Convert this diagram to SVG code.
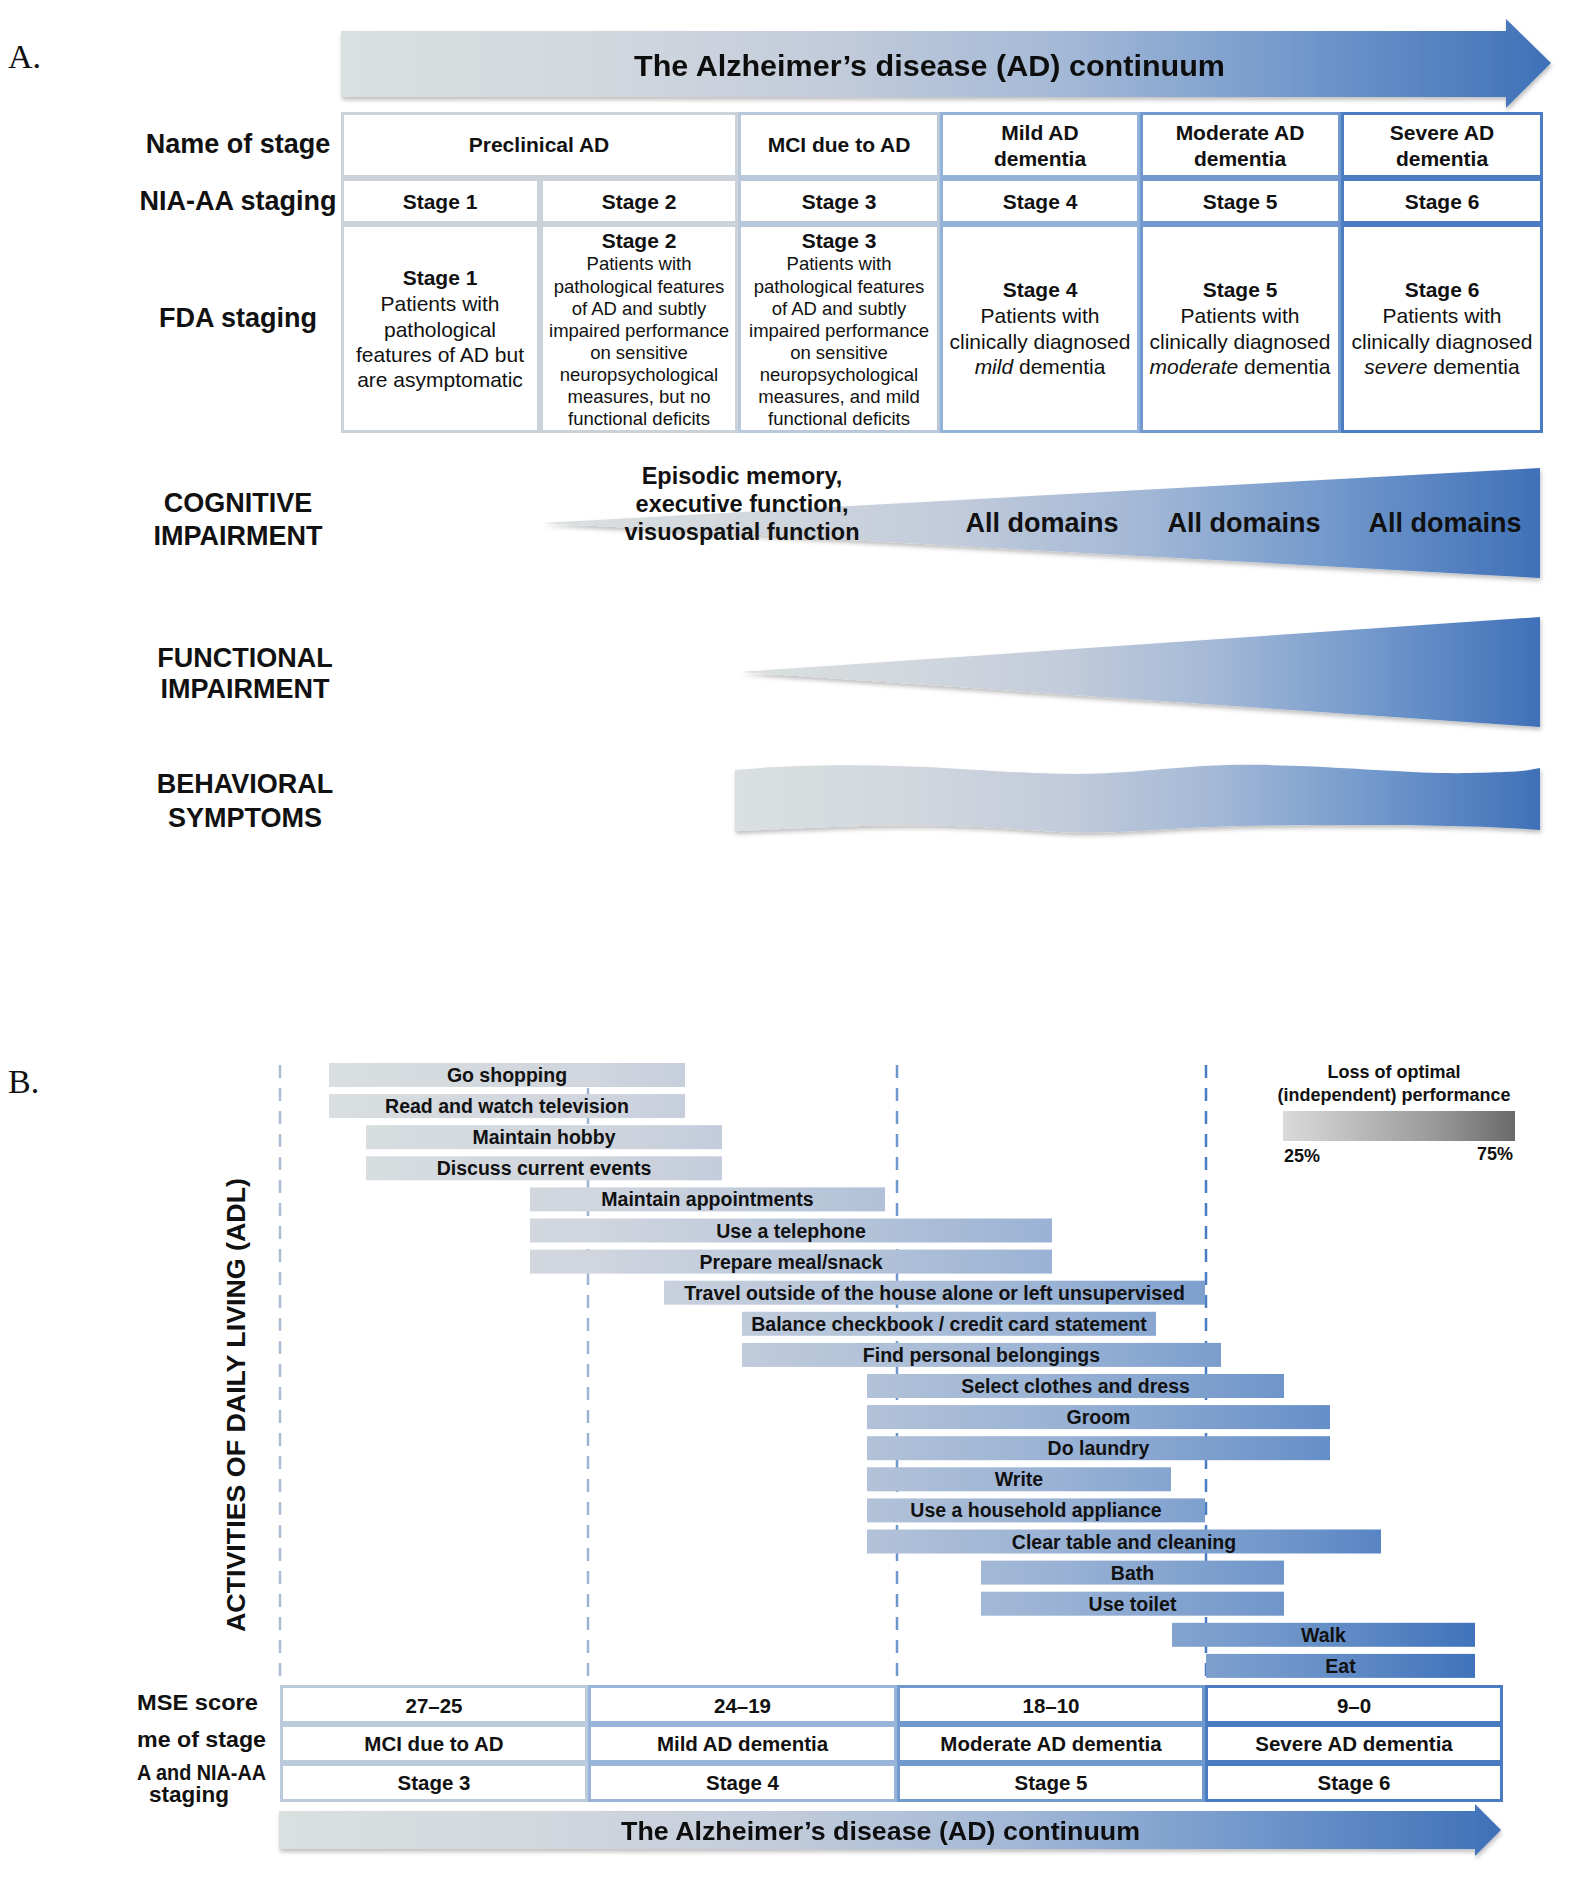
<svg xmlns="http://www.w3.org/2000/svg" width="1594" height="1898" viewBox="0 0 1594 1898">
<defs>
<linearGradient id="gMain" x1="0" y1="0" x2="1" y2="0">
<stop offset="0" stop-color="#dadfe0"/><stop offset="0.2" stop-color="#d3d8de"/><stop offset="0.4" stop-color="#c3ccdb"/><stop offset="0.6" stop-color="#a3b8d6"/><stop offset="0.8" stop-color="#7097cb"/><stop offset="1" stop-color="#3f70b8"/>
</linearGradient>
<linearGradient id="gBar" gradientUnits="userSpaceOnUse" x1="300" y1="0" x2="1480" y2="0">
<stop offset="0" stop-color="#dadfe0"/><stop offset="0.25" stop-color="#d0d5de"/><stop offset="0.45" stop-color="#b7c5d9"/><stop offset="0.65" stop-color="#98b1d4"/><stop offset="0.85" stop-color="#6b93c9"/><stop offset="1" stop-color="#3f72bb"/>
</linearGradient>
<linearGradient id="gLeg" x1="0" y1="0" x2="1" y2="0">
<stop offset="0" stop-color="#dadada"/><stop offset="0.3" stop-color="#bdbdbd"/><stop offset="0.65" stop-color="#9a9a9a"/><stop offset="1" stop-color="#6a6a6a"/>
</linearGradient>
<filter id="sh" x="-5%" y="-20%" width="110%" height="150%">
<feDropShadow dx="1" dy="3" stdDeviation="2" flood-color="#000" flood-opacity="0.25"/>
</filter>
<style>
text{font-family:"Liberation Sans",Arial,sans-serif;fill:#111;}
.lbl{font-size:27px;font-weight:bold;text-anchor:middle;}
.cellb{font-size:21px;font-weight:bold;text-anchor:middle;}
.cell{font-size:21px;text-anchor:middle;}
.small{font-size:18.5px;text-anchor:middle;}
.bar{font-size:19.5px;font-weight:bold;text-anchor:middle;}
.bt{font-size:20.5px;font-weight:bold;text-anchor:middle;}
.bl{font-size:22.5px;font-weight:bold;}
.serif{font-family:"Liberation Serif","Times New Roman",serif;font-size:34px;}
.c1{fill:#fff;stroke:#cbd2d9;stroke-width:3;}
.c3{fill:#fff;stroke:#b9c8da;stroke-width:3;}
.c4{fill:#fff;stroke:#93b2da;stroke-width:3;}
.c5{fill:#fff;stroke:#7199cf;stroke-width:3;}
.c6{fill:#fff;stroke:#4b7dc2;stroke-width:3;}
.d1{fill:#fff;stroke:#bccbdc;stroke-width:3;}
.d2{fill:#fff;stroke:#98b4d8;stroke-width:3;}
.d3{fill:#fff;stroke:#7099ce;stroke-width:3;}
.d4{fill:#fff;stroke:#4a7cc2;stroke-width:3;}
.dash{stroke-width:2.5;stroke-dasharray:13 10;fill:none;}
.b{fill:url(#gBar);}
</style>
</defs>
<rect width="1594" height="1898" fill="#fff"/>

<!-- ===== Part A ===== -->
<text class="serif" x="8" y="68">A.</text>

<g id="arrowA" filter="url(#sh)">
<path d="M341,31 L1506,31 L1506,19 L1551,63 L1506,108 L1506,97 L341,97 Z" fill="url(#gMain)"/>
<text x="929.5" y="76" font-size="30" font-weight="bold" text-anchor="middle" textLength="591" lengthAdjust="spacingAndGlyphs">The Alzheimer’s disease (AD) continuum</text>
</g>

<g id="rowlabels">
<text class="lbl" x="238" y="153">Name of stage</text>
<text class="lbl" x="238" y="210">NIA-AA staging</text>
<text class="lbl" x="238" y="327">FDA staging</text>
</g>

<g id="cell-preclinical"><rect class="c1" x="342.5" y="113.5" width="394" height="63"/><text class="cellb" x="539" y="152">Preclinical AD</text></g>
<g id="cell-mci"><rect class="c3" x="739.5" y="113.5" width="199" height="63"/><text class="cellb" x="839" y="152">MCI due to AD</text></g>
<g id="cell-mild"><rect class="c4" x="941.5" y="113.5" width="197" height="63"/><text class="cellb" x="1040" y="140">Mild AD</text><text class="cellb" x="1040" y="166">dementia</text></g>
<g id="cell-moderate"><rect class="c5" x="1141.5" y="113.5" width="198" height="63"/><text class="cellb" x="1240" y="140">Moderate AD</text><text class="cellb" x="1240" y="166">dementia</text></g>
<g id="cell-severe"><rect class="c6" x="1342.5" y="113.5" width="199" height="63"/><text class="cellb" x="1442" y="140">Severe AD</text><text class="cellb" x="1442" y="166">dementia</text></g>

<g id="nia1"><rect class="c1" x="342.5" y="179.5" width="196" height="43"/><text class="cellb" x="440" y="209">Stage 1</text></g>
<g id="nia2"><rect class="c1" x="541.5" y="179.5" width="195" height="43"/><text class="cellb" x="639" y="209">Stage 2</text></g>
<g id="nia3"><rect class="c3" x="739.5" y="179.5" width="199" height="43"/><text class="cellb" x="839" y="209">Stage 3</text></g>
<g id="nia4"><rect class="c4" x="941.5" y="179.5" width="197" height="43"/><text class="cellb" x="1040" y="209">Stage 4</text></g>
<g id="nia5"><rect class="c5" x="1141.5" y="179.5" width="198" height="43"/><text class="cellb" x="1240" y="209">Stage 5</text></g>
<g id="nia6"><rect class="c6" x="1342.5" y="179.5" width="199" height="43"/><text class="cellb" x="1442" y="209">Stage 6</text></g>

<g id="fda1"><rect class="c1" x="342.5" y="225.5" width="196" height="206"/>
<text class="cellb" x="440" y="285">Stage 1</text>
<text class="cell" x="440" y="311">Patients with</text>
<text class="cell" x="440" y="337">pathological</text>
<text class="cell" x="440" y="362">features of AD but</text>
<text class="cell" x="440" y="387">are asymptomatic</text></g>
<g id="fda2"><rect class="c1" x="541.5" y="225.5" width="195" height="206"/>
<text class="cellb" x="639" y="248">Stage 2</text>
<text class="small" x="639" y="270">Patients with</text>
<text class="small" x="639" y="293">pathological features</text>
<text class="small" x="639" y="315">of AD and subtly</text>
<text class="small" x="639" y="337">impaired performance</text>
<text class="small" x="639" y="359">on sensitive</text>
<text class="small" x="639" y="381">neuropsychological</text>
<text class="small" x="639" y="403">measures, but no</text>
<text class="small" x="639" y="425">functional deficits</text></g>
<g id="fda3"><rect class="c3" x="739.5" y="225.5" width="199" height="206"/>
<text class="cellb" x="839" y="248">Stage 3</text>
<text class="small" x="839" y="270">Patients with</text>
<text class="small" x="839" y="293">pathological features</text>
<text class="small" x="839" y="315">of AD and subtly</text>
<text class="small" x="839" y="337">impaired performance</text>
<text class="small" x="839" y="359">on sensitive</text>
<text class="small" x="839" y="381">neuropsychological</text>
<text class="small" x="839" y="403">measures, and mild</text>
<text class="small" x="839" y="425">functional deficits</text></g>
<g id="fda4"><rect class="c4" x="941.5" y="225.5" width="197" height="206"/>
<text class="cellb" x="1040" y="297">Stage 4</text>
<text class="cell" x="1040" y="323">Patients with</text>
<text class="cell" x="1040" y="349">clinically diagnosed</text>
<text class="cell" x="1040" y="374"><tspan font-style="italic">mild</tspan> dementia</text></g>
<g id="fda5"><rect class="c5" x="1141.5" y="225.5" width="198" height="206"/>
<text class="cellb" x="1240" y="297">Stage 5</text>
<text class="cell" x="1240" y="323">Patients with</text>
<text class="cell" x="1240" y="349">clinically diagnosed</text>
<text class="cell" x="1240" y="374"><tspan font-style="italic">moderate</tspan> dementia</text></g>
<g id="fda6"><rect class="c6" x="1342.5" y="225.5" width="199" height="206"/>
<text class="cellb" x="1442" y="297">Stage 6</text>
<text class="cell" x="1442" y="323">Patients with</text>
<text class="cell" x="1442" y="349">clinically diagnosed</text>
<text class="cell" x="1442" y="374"><tspan font-style="italic">severe</tspan> dementia</text></g>

<g id="cognitive">
<text class="lbl" x="238" y="512">COGNITIVE</text>
<text class="lbl" x="238" y="545">IMPAIRMENT</text>
<path d="M542,523 L1540,468 L1540,578 Z" fill="url(#gMain)" filter="url(#sh)"/>
<text x="742" y="484" font-size="23.5" font-weight="bold" text-anchor="middle">Episodic memory,</text>
<text x="742" y="512" font-size="23.5" font-weight="bold" text-anchor="middle">executive function,</text>
<text x="742" y="540" font-size="23.5" font-weight="bold" text-anchor="middle">visuospatial function</text>
<text class="lbl" x="1042" y="532">All domains</text>
<text class="lbl" x="1244" y="532">All domains</text>
<text class="lbl" x="1445" y="532">All domains</text>
</g>

<g id="functional">
<text class="lbl" x="245" y="667">FUNCTIONAL</text>
<text class="lbl" x="245" y="698">IMPAIRMENT</text>
<path d="M740,672 L1540,617 L1540,727 Z" fill="url(#gMain)" filter="url(#sh)"/>
</g>

<g id="behavioral">
<text class="lbl" x="245" y="793">BEHAVIORAL</text>
<text class="lbl" x="245" y="827">SYMPTOMS</text>
<path d="M735,770 C800,764 880,764 960,769 S1080,776 1140,771 S1230,763 1300,766 S1420,774 1470,773 S1525,771 1540,768 L1540,830 C1490,826 1420,825 1360,825 S1230,825 1170,829 S1080,834 1030,830 S920,824 860,826 S760,830 735,831 Z" fill="url(#gMain)" filter="url(#sh)"/>
</g>

<!-- ===== Part B ===== -->
<text class="serif" x="8" y="1093">B.</text>

<g id="connectors">
<line class="dash" x1="280" y1="1065" x2="280" y2="1685" stroke="#aabdd2"/>
<line class="dash" x1="588" y1="1065" x2="588" y2="1685" stroke="#9db5d2"/>
<line class="dash" x1="897" y1="1065" x2="897" y2="1685" stroke="#6f97cc"/>
<line class="dash" x1="1206" y1="1065" x2="1206" y2="1685" stroke="#4a7cc4"/>
</g>

<g id="adl-axis">
<text x="245" y="1405" font-size="26.5" font-weight="bold" text-anchor="middle" textLength="454" lengthAdjust="spacingAndGlyphs" transform="rotate(-90 245 1405)">ACTIVITIES OF DAILY LIVING (ADL)</text>
</g>

<g id="legend">
<text x="1394" y="1078" font-size="18" font-weight="bold" text-anchor="middle">Loss of optimal</text>
<text x="1394" y="1101" font-size="18" font-weight="bold" text-anchor="middle">(independent) performance</text>
<rect x="1283" y="1111" width="232" height="30" fill="url(#gLeg)"/>
<text x="1284" y="1162" font-size="18" font-weight="bold">25%</text>
<text x="1513" y="1160" font-size="18" font-weight="bold" text-anchor="end">75%</text>
</g>

<g id="bar-go-shopping"><rect class="b" x="329" y="1063" width="356" height="24"/><text class="bar" x="507" y="1082">Go shopping</text></g>
<g id="bar-read-tv"><rect class="b" x="329" y="1094.1" width="356" height="24"/><text class="bar" x="507" y="1113.1">Read and watch television</text></g>
<g id="bar-hobby"><rect class="b" x="366" y="1125.2" width="356" height="24"/><text class="bar" x="544" y="1144.2">Maintain hobby</text></g>
<g id="bar-discuss"><rect class="b" x="366" y="1156.3" width="356" height="24"/><text class="bar" x="544" y="1175.3">Discuss current events</text></g>
<g id="bar-appointments"><rect class="b" x="530" y="1187.4" width="355" height="24"/><text class="bar" x="707.5" y="1206.4">Maintain appointments</text></g>
<g id="bar-telephone"><rect class="b" x="530" y="1218.5" width="522" height="24"/><text class="bar" x="791" y="1237.5">Use a telephone</text></g>
<g id="bar-meal"><rect class="b" x="530" y="1249.6" width="522" height="24"/><text class="bar" x="791" y="1268.6">Prepare meal/snack</text></g>
<g id="bar-travel"><rect class="b" x="664" y="1280.7" width="541" height="24"/><text class="bar" x="934.5" y="1299.7">Travel outside of the house alone or left unsupervised</text></g>
<g id="bar-checkbook"><rect class="b" x="742" y="1311.8" width="414" height="24"/><text class="bar" x="949" y="1330.8">Balance checkbook / credit card statement</text></g>
<g id="bar-belongings"><rect class="b" x="742" y="1342.9" width="479" height="24"/><text class="bar" x="981.5" y="1361.9">Find personal belongings</text></g>
<g id="bar-clothes"><rect class="b" x="867" y="1374" width="417" height="24"/><text class="bar" x="1075.5" y="1393">Select clothes and dress</text></g>
<g id="bar-groom"><rect class="b" x="867" y="1405.1" width="463" height="24"/><text class="bar" x="1098.5" y="1424.1">Groom</text></g>
<g id="bar-laundry"><rect class="b" x="867" y="1436.2" width="463" height="24"/><text class="bar" x="1098.5" y="1455.2">Do laundry</text></g>
<g id="bar-write"><rect class="b" x="867" y="1467.3" width="304" height="24"/><text class="bar" x="1019" y="1486.3">Write</text></g>
<g id="bar-appliance"><rect class="b" x="867" y="1498.4" width="338" height="24"/><text class="bar" x="1036" y="1517.4">Use a household appliance</text></g>
<g id="bar-clear-table"><rect class="b" x="867" y="1529.5" width="514" height="24"/><text class="bar" x="1124" y="1548.5">Clear table and cleaning</text></g>
<g id="bar-bath"><rect class="b" x="981" y="1560.6" width="303" height="24"/><text class="bar" x="1132.5" y="1579.6">Bath</text></g>
<g id="bar-toilet"><rect class="b" x="981" y="1591.7" width="303" height="24"/><text class="bar" x="1132.5" y="1610.7">Use toilet</text></g>
<g id="bar-walk"><rect class="b" x="1172" y="1622.8" width="303" height="24"/><text class="bar" x="1323.5" y="1641.8">Walk</text></g>
<g id="bar-eat"><rect class="b" x="1206" y="1653.9" width="269" height="24"/><text class="bar" x="1340.5" y="1672.9">Eat</text></g>

<g id="rowlabelsB">
<text class="bl" x="137" y="1710" textLength="121" lengthAdjust="spacingAndGlyphs">MSE score</text>
<text class="bl" x="137" y="1747" textLength="129" lengthAdjust="spacingAndGlyphs">me of stage</text>
<text class="bl" x="137" y="1780" textLength="129" lengthAdjust="spacingAndGlyphs">A and NIA-AA</text>
<text class="bl" x="189" y="1802" text-anchor="middle">staging</text>
</g>

<g id="mmse1"><rect class="d1" x="281.5" y="1686.5" width="305" height="36"/><text class="bt" x="434" y="1713">27–25</text></g>
<g id="mmse2"><rect class="d2" x="589.5" y="1686.5" width="306" height="36"/><text class="bt" x="742.5" y="1713">24–19</text></g>
<g id="mmse3"><rect class="d3" x="898.5" y="1686.5" width="305" height="36"/><text class="bt" x="1051" y="1713">18–10</text></g>
<g id="mmse4"><rect class="d4" x="1206.5" y="1686.5" width="295" height="36"/><text class="bt" x="1354" y="1713">9–0</text></g>

<g id="nameB1"><rect class="d1" x="281.5" y="1725.5" width="305" height="36"/><text class="bt" x="434" y="1751">MCI due to AD</text></g>
<g id="nameB2"><rect class="d2" x="589.5" y="1725.5" width="306" height="36"/><text class="bt" x="742.5" y="1751">Mild AD dementia</text></g>
<g id="nameB3"><rect class="d3" x="898.5" y="1725.5" width="305" height="36"/><text class="bt" x="1051" y="1751">Moderate AD dementia</text></g>
<g id="nameB4"><rect class="d4" x="1206.5" y="1725.5" width="295" height="36"/><text class="bt" x="1354" y="1751">Severe AD dementia</text></g>

<g id="stageB1"><rect class="d1" x="281.5" y="1764.5" width="305" height="36"/><text class="bt" x="434" y="1790">Stage 3</text></g>
<g id="stageB2"><rect class="d2" x="589.5" y="1764.5" width="306" height="36"/><text class="bt" x="742.5" y="1790">Stage 4</text></g>
<g id="stageB3"><rect class="d3" x="898.5" y="1764.5" width="305" height="36"/><text class="bt" x="1051" y="1790">Stage 5</text></g>
<g id="stageB4"><rect class="d4" x="1206.5" y="1764.5" width="295" height="36"/><text class="bt" x="1354" y="1790">Stage 6</text></g>

<g id="arrowB" filter="url(#sh)">
<path d="M279,1811 L1475,1811 L1475,1804 L1501,1830 L1475,1856 L1475,1849 L279,1849 Z" fill="url(#gMain)"/>
<text x="880.5" y="1840" font-size="26.5" font-weight="bold" text-anchor="middle" textLength="519" lengthAdjust="spacingAndGlyphs">The Alzheimer’s disease (AD) continuum</text>
</g>
</svg>
